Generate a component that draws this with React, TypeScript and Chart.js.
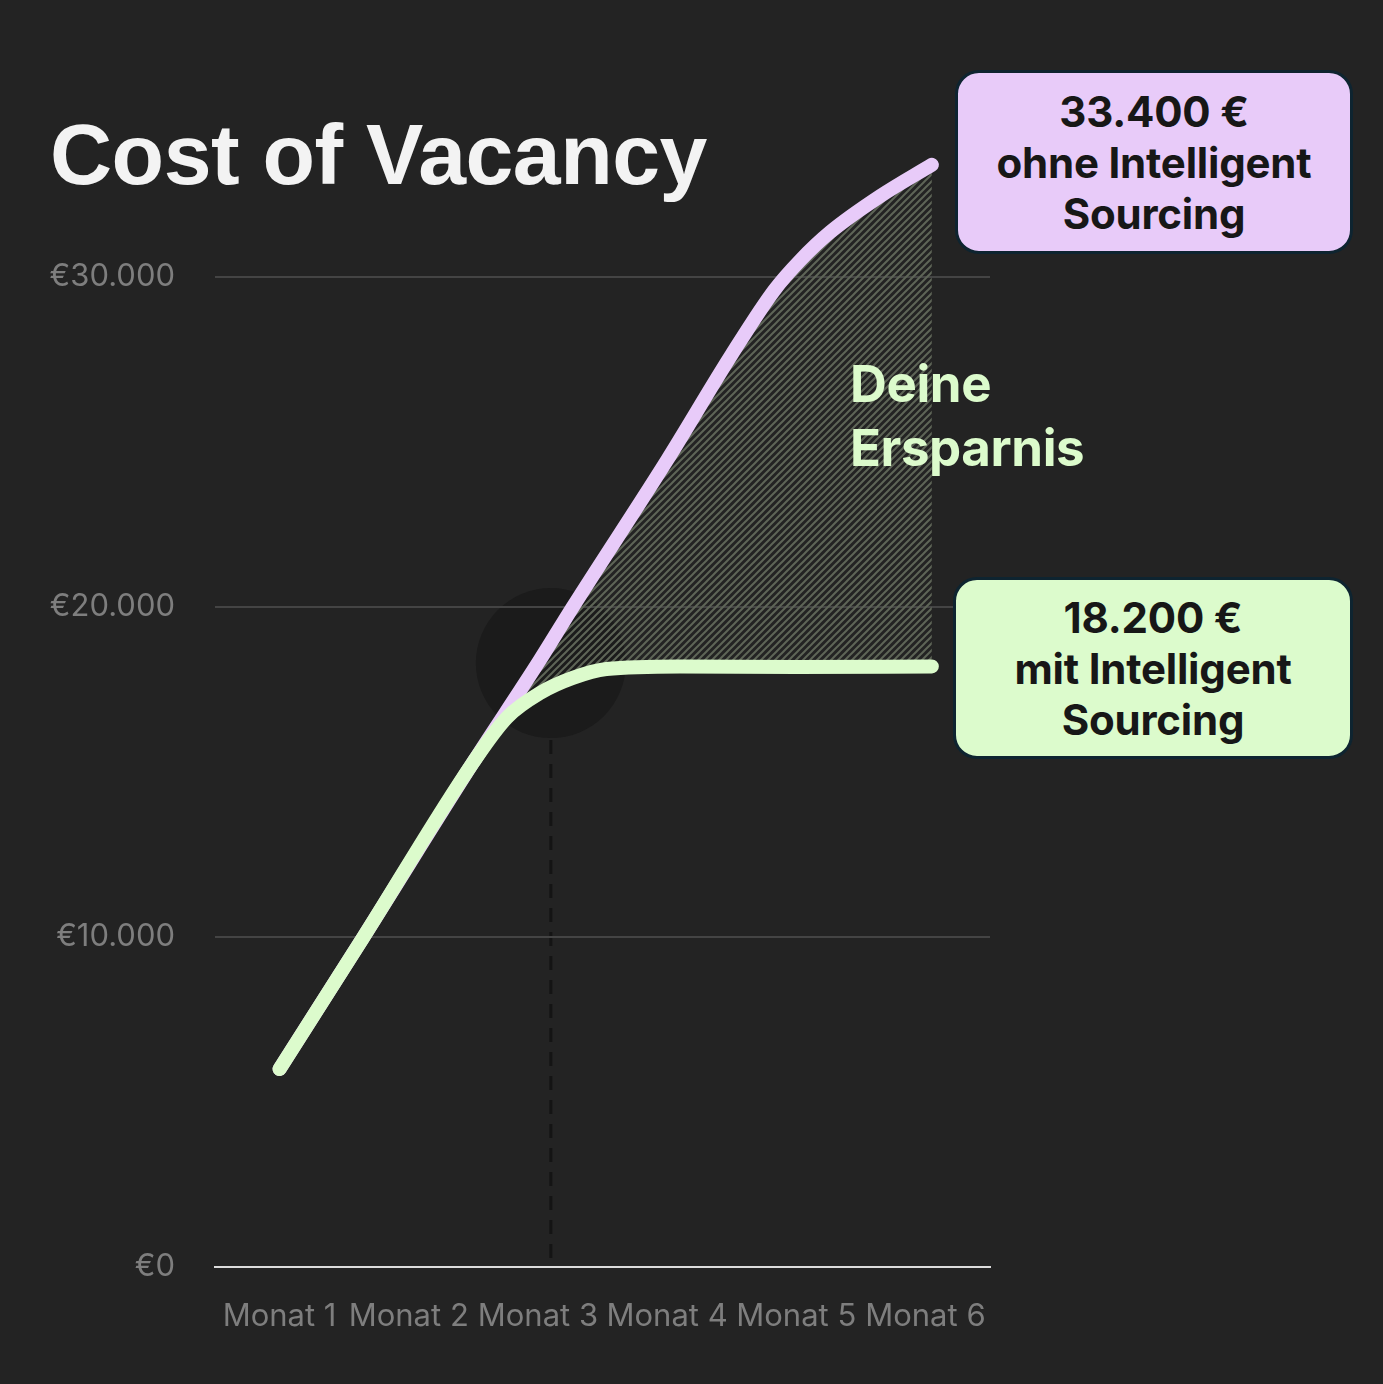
import React, { useEffect, useRef } from 'react';
import { Chart, registerables } from 'chart.js';

Chart.register(...registerables);

// ---- data ----
const monthTicks = [1, 2, 3, 4, 5, 6];
const monthLabels = ['Monat 1', 'Monat 2', 'Monat 3', 'Monat 4', 'Monat 5', 'Monat 6'];
const yTickValues = [0, 10000, 20000, 30000];
const yTickLabels = ['€0', '€10.000', '€20.000', '€30.000'];

// "ohne Intelligent Sourcing" (purple)
const ohneX = [1, 1.65, 2.5, 3.0, 3.27, 4.0, 4.5, 4.83, 5.03, 5.26, 5.65, 6.05];
const ohneY = [6000, 10000, 15300, 18300, 20000, 24450, 27650, 29600, 30500, 31350, 32450, 33400];

// "mit Intelligent Sourcing" (green)
const mitX = [1, 1.65, 2.5, 2.76, 3.02, 3.27, 3.53, 4.1, 5.0, 6.05];
const mitY = [6000, 10000, 15300, 16650, 17400, 17850, 18120, 18200, 18180, 18200];

// marker (circle + dashed drop line)
const markerX = 3.1;
const markerY = 18300;

const BG = '#232323';
const PURPLE = '#E8CBF9';
const GREEN = '#DCFBCC';

export default function App() {
  const ref = useRef<HTMLCanvasElement>(null);

  useEffect(() => {
    const canvas = ref.current!;
    const pc = document.createElement('canvas');
    pc.width = 7;
    pc.height = 7;
    const p = pc.getContext('2d')!;
    p.strokeStyle = '#5e6557';
    p.lineWidth = 2;
    p.beginPath();
    p.moveTo(-1, 8); p.lineTo(8, -1);
    p.moveTo(-1, 1); p.lineTo(1, -1);
    p.moveTo(6, 8); p.lineTo(8, 6);
    p.stroke();
    const pattern = canvas.getContext('2d')!.createPattern(pc, 'repeat');

    const decor = {
      id: 'decor',
      beforeDraw(chart: any) {
        const { ctx, scales } = chart;
        const x = scales.x, y = scales.y;
        ctx.save();
        ctx.fillStyle = BG;
        ctx.fillRect(0, 0, chart.width, chart.height);
        const cx = x.getPixelForValue(markerX);
        const cy = y.getPixelForValue(markerY);
        ctx.fillStyle = '#1b1b1b';
        ctx.beginPath();
        ctx.arc(cx, cy, 75, 0, Math.PI * 2);
        ctx.fill();
        ctx.setLineDash([14, 10]);
        ctx.strokeStyle = '#141414';
        ctx.lineWidth = 3;
        ctx.beginPath();
        ctx.moveTo(cx, cy + 77);
        ctx.lineTo(cx, y.getPixelForValue(0) - 8);
        ctx.stroke();
        ctx.restore();
      },
    };

    const tickFont = { family: 'Inter', size: 31 };

    const chart = new Chart(canvas, {
      type: 'line',
      data: {
        datasets: [
          {
            label: 'ohne Intelligent Sourcing',
            data: ohneX.map((x, i) => ({ x, y: ohneY[i] })),
            borderColor: PURPLE,
            borderWidth: 14,
            borderCapStyle: 'round',
            borderJoinStyle: 'round',
            pointRadius: 0,
            cubicInterpolationMode: 'monotone',
            fill: { target: 1, above: pattern as any, below: pattern as any },
            backgroundColor: pattern as any,
            order: 1,
          },
          {
            label: 'mit Intelligent Sourcing',
            data: mitX.map((x, i) => ({ x, y: mitY[i] })),
            borderColor: GREEN,
            borderWidth: 14,
            borderCapStyle: 'round',
            borderJoinStyle: 'round',
            pointRadius: 0,
            cubicInterpolationMode: 'monotone',
            fill: false,
            order: 0,
          },
        ],
      },
      options: {
        responsive: false,
        devicePixelRatio: 1,
        animation: false,
        layout: { padding: { top: 112, right: 393, left: 0, bottom: 0 } },
        plugins: {
          legend: { display: false },
          tooltip: { enabled: false },
          title: { display: false },
        },
        scales: {
          x: {
            type: 'linear',
            min: 0.5,
            max: 6.5,
            afterBuildTicks: (s: any) => {
              s.ticks = monthTicks.map((v) => ({ value: v }));
            },
            afterFit: (s: any) => {
              s.height = 117;
            },
            ticks: {
              color: '#7e7e7e',
              font: tickFont,
              padding: 31,
              maxRotation: 0,
              autoSkip: false,
              callback: (v: any) => {
                const i = monthTicks.indexOf(Number(v));
                return i >= 0 ? monthLabels[i] : '';
              },
            },
            grid: { display: false, drawTicks: false },
            border: { display: true, color: '#dcdcdc', width: 2 },
          },
          y: {
            type: 'linear',
            min: 0,
            max: 35000,
            afterBuildTicks: (s: any) => {
              s.ticks = yTickValues.map((v) => ({ value: v }));
            },
            afterFit: (s: any) => {
              s.width = 215;
            },
            ticks: {
              color: '#7e7e7e',
              font: tickFont,
              padding: 40,
              callback: (v: any) => {
                const i = yTickValues.indexOf(Number(v));
                return i >= 0 ? yTickLabels[i] : '';
              },
            },
            grid: {
              drawTicks: false,
              lineWidth: 2,
              color: (c: any) => (c.tick && c.tick.value === 0 ? 'rgba(0,0,0,0)' : '#444444'),
            },
            border: { display: false },
          },
        },
      },
      plugins: [decor],
    } as any);

    return () => chart.destroy();
  }, []);

  const boxBase: React.CSSProperties = {
    position: 'absolute',
    boxSizing: 'border-box',
    border: '3px solid #0e2430',
    borderRadius: 24,
    display: 'flex',
    flexDirection: 'column',
    alignItems: 'center',
    justifyContent: 'center',
    fontFamily: 'Inter, sans-serif',
    fontWeight: 700,
    fontSize: 42,
    lineHeight: '51px',
    color: '#171717',
    textAlign: 'center',
    letterSpacing: '-0.2px',
  };

  return (
    <div
      style={{
        position: 'fixed',
        left: 0,
        top: 0,
        width: 1383,
        height: 1384,
        background: BG,
        overflow: 'hidden',
      }}
    >
      <canvas
        ref={ref}
        width={1383}
        height={1384}
        style={{ position: 'absolute', left: 0, top: 0, display: 'block' }}
      />
      <div
        style={{
          position: 'absolute',
          left: 50,
          top: 111,
          fontFamily: '"Liberation Sans", Arial, sans-serif',
          fontWeight: 700,
          fontSize: 86,
          lineHeight: '86px',
          letterSpacing: '-0.5px',
          color: '#f3f3f3',
          whiteSpace: 'nowrap',
        }}
      >
        Cost of Vacancy
      </div>
      <div
        style={{
          position: 'absolute',
          left: 850,
          top: 352,
          fontFamily: 'Inter, sans-serif',
          fontWeight: 700,
          fontSize: 51,
          lineHeight: '64px',
          color: GREEN,
          letterSpacing: '-0.4px',
        }}
      >
        <div>Deine</div>
        <div>Ersparnis</div>
      </div>
      <div style={{ ...boxBase, left: 955, top: 70, width: 398, height: 184, background: PURPLE }}>
        <div>33.400 €</div>
        <div>ohne Intelligent</div>
        <div>Sourcing</div>
      </div>
      <div style={{ ...boxBase, left: 953, top: 577, width: 400, height: 182, background: GREEN }}>
        <div>18.200 €</div>
        <div>mit Intelligent</div>
        <div>Sourcing</div>
      </div>
    </div>
  );
}
